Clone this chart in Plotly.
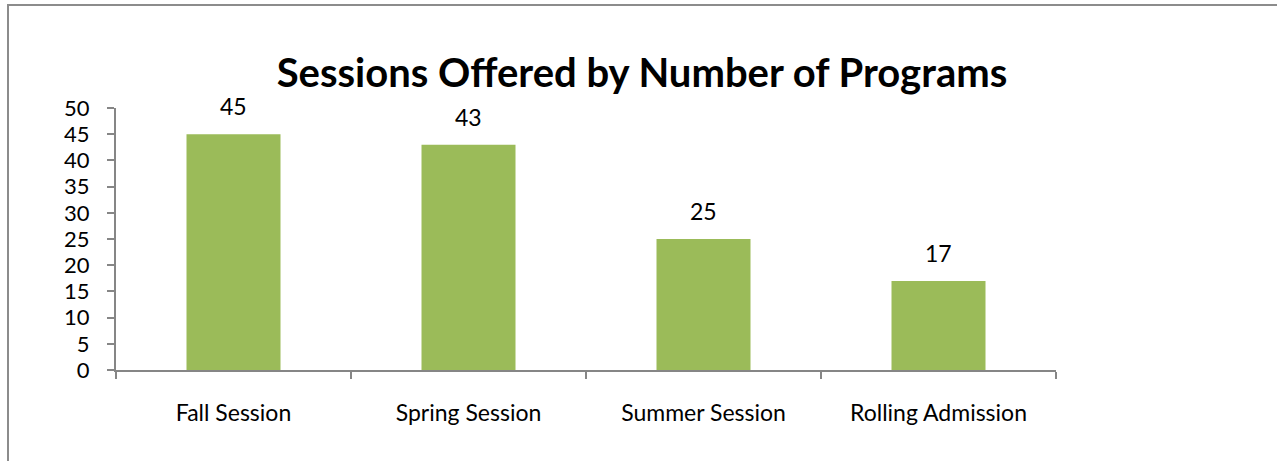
import plotly.graph_objects as go

categories = ["Fall Session", "Spring Session", "Summer Session", "Rolling Admission"]
programs = [45, 43, 25, 17]
y_ticks = [0, 5, 10, 15, 20, 25, 30, 35, 40, 45, 50]

W, H = 1277, 461
L, R, T, B = 116, 221, 108, 91
pw, ph = W - L - R, H - T - B

font_family = "Lato, Carlito, Calibri, sans-serif"
bar_color = "#9BBB59"
axis_color = "#868686"

fig = go.Figure()
fig.add_trace(go.Bar(
    x=categories, y=programs, width=0.4,
    marker=dict(color=bar_color, line=dict(width=0)),
    hoverinfo="x+y",
))

for c, v in zip(categories, programs):
    fig.add_annotation(x=c, y=v, text=str(v), showarrow=False,
                       yanchor="bottom", yshift=12,
                       font=dict(size=23, color="black", family=font_family))

def px_to_paper_x(px):
    return (px - L) / pw

def px_to_paper_y(py):
    return (H - B - py) / ph

fig.add_shape(type="rect", xref="paper", yref="paper",
              x0=px_to_paper_x(8), x1=px_to_paper_x(1290),
              y0=px_to_paper_y(475), y1=px_to_paper_y(5),
              line=dict(color="#8c8c8c", width=2), fillcolor="rgba(0,0,0,0)",
              layer="below")

fig.update_layout(
    width=W, height=H,
    margin=dict(l=L, r=R, t=T, b=B, pad=0),
    paper_bgcolor="white", plot_bgcolor="white",
    showlegend=False,
    title=dict(text="<b>Sessions Offered by Number of Programs</b>",
               x=642 / W, xanchor="center", xref="container",
               y=1 - 72.5 / H, yanchor="middle", yref="container",
               font=dict(size=40, color="black", family=font_family)),
    font=dict(family=font_family, color="black", size=23),
    xaxis=dict(
        showline=True, linecolor=axis_color, linewidth=2,
        ticks="outside", tickson="boundaries", ticklen=7, tickwidth=2,
        tickcolor=axis_color, showgrid=False, zeroline=False,
        tickfont=dict(size=23, color="black"),
        ticklabelstandoff=21,
    ),
    yaxis=dict(
        range=[0, 50], tickvals=y_ticks,
        showline=True, linecolor=axis_color, linewidth=2,
        ticks="outside", ticklen=7, tickwidth=2, tickcolor=axis_color,
        showgrid=False, zeroline=False,
        tickfont=dict(size=22, color="black"),
        ticklabelstandoff=13,
    ),
    bargap=0.6,
)

fig.write_html("out.html", config={"displayModeBar": False},
               post_script="document.body.style.margin='0';")
